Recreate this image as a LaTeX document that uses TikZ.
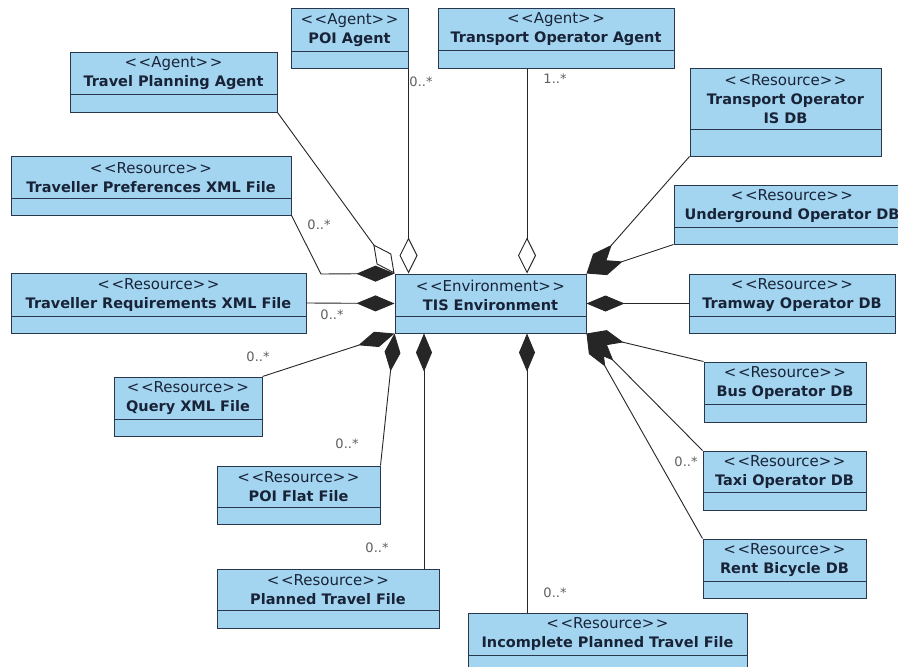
\documentclass[tikz,border=0pt]{standalone}
\usepackage{fontspec}
\setmainfont{DejaVu Sans}
\usetikzlibrary{arrows.meta,fit}
\definecolor{boxfill}{RGB}{163,213,241}
\definecolor{boxline}{RGB}{40,55,75}
\definecolor{txt}{RGB}{25,35,55}
\definecolor{mult}{RGB}{95,95,95}
\tikzset{
  umlbox/.style={draw=boxline, fill=boxfill, line width=1pt, inner sep=0pt},
  head/.style={text=txt, align=center, font=\fontsize{14.5}{19}\selectfont, inner sep=0pt},
  conn/.style={draw=black!85, line width=0.9pt},
  comp/.style={-{Diamond[length=38pt,width=16pt]}},
  aggr/.style={-{Diamond[open,length=36pt,width=18pt]}},
  mul/.style={text=mult, font=\fontsize{13}{14}\selectfont, inner sep=0pt},
}
\newcommand\umlbox[7]{%
  \node[umlbox, fit={(#2,#3) (#4,#5)}] (#1) {};
  \draw[boxline, line width=1pt] (#2,#6) -- (#4,#6);
  \node[head] (#1-t) at ({(#2+#4)/2},{(#3+#6)/2+0.5}) {#7};
}
\newcommand\stereo[1]{{\fontsize{15}{19}\selectfont<\kern1.5pt<#1>\kern1.5pt>}}
\begin{document}
\begin{tikzpicture}[x=1pt,y=-1pt]
\useasboundingbox (0,0) rectangle (898,667);
\fill[white] (0,0) rectangle (898,667);

\umlbox{poi}{291}{8}{408}{68}{51}{\stereo{Agent}\\\textbf{POI Agent}}
\umlbox{toa}{438}{8}{674}{68}{50}{\stereo{Agent}\\\textbf{Transport Operator Agent}}
\umlbox{tpa}{70}{52}{277}{112}{94}{\stereo{Agent}\\\textbf{Travel Planning Agent}}
\umlbox{tpx}{11}{156}{291}{215}{198}{\stereo{Resource}\\\textbf{Traveller Preferences XML File}}
\umlbox{tod}{690}{68}{881}{156}{129}{\stereo{Resource}\\\textbf{Transport Operator}\\\textbf{IS DB}}
\umlbox{und}{674}{185}{910}{244}{227}{\stereo{Resource}\\\textbf{Underground Operator DB}}
\umlbox{trx}{11}{273}{306}{333}{316}{\stereo{Resource}\\\textbf{Traveller Requirements XML File}}
\umlbox{tis}{395}{274}{586}{333}{316}{\stereo{Environment}\\\textbf{TIS Environment}}
\umlbox{tram}{689}{274}{895}{333}{316}{\stereo{Resource}\\\textbf{Tramway Operator DB}}
\umlbox{qry}{114}{377}{262}{436}{419}{\stereo{Resource}\\\textbf{Query XML File}}
\umlbox{bus}{704}{362}{866}{422}{404}{\stereo{Resource}\\\textbf{Bus Operator DB}}
\umlbox{poif}{217}{466}{380}{524}{507}{\stereo{Resource}\\\textbf{POI Flat File}}
\umlbox{ptf}{217}{569}{439}{628}{610}{\stereo{Resource}\\\textbf{Planned Travel File}}
\umlbox{ipt}{468}{613}{747}{680}{655}{\stereo{Resource}\\\textbf{Incomplete Planned Travel File}}
\umlbox{taxi}{703}{451}{866}{510}{492}{\stereo{Resource}\\\textbf{Taxi Operator DB}}
\umlbox{rent}{703}{539}{866}{598}{581}{\stereo{Resource}\\\textbf{Rent Bicycle DB}}

\coordinate (v424) at (424,0);
\coordinate (v527) at (527,0);
\coordinate (tpxbend) at (321,274);

% aggregations (agents)
\draw[conn,aggr] (poi.south east) -- (poi.south east |- tis.north);
\draw[conn,aggr] (v527 |- toa.south) -- (v527 |- tis.north);
\draw[conn,aggr] (tpa.south east) -- (tis.north west);
% compositions (resources)
\draw[conn,comp] (tpx.south east) -- (tpxbend) -- (tis.north west);
\draw[conn,comp] (trx.east) -- (tis.west);
\draw[conn,comp] (qry.north east) -- (tis.south west);
\draw[conn,comp] (poif.north east) -- (tis.south west);
\draw[conn,comp] (v424 |- ptf.north) -- (v424 |- tis.south);
\draw[conn,comp] (v527 |- ipt.north) -- (v527 |- tis.south);
\draw[conn,comp] (tod.south west) -- (tis.north east);
\draw[conn,comp] (und.south west) -- (tis.north east);
\draw[conn,comp] (tram.west) -- (tis.east);
\draw[conn,comp] (bus.north west) -- (tis.south east);
\draw[conn,comp] (taxi.north west) -- (tis.south east);
\draw[conn,comp] (rent.north west) -- (tis.south east);

% multiplicities
\node[mul] (m1) at (421,82) {0..*};
\node[mul] (m2) at (555,79) {1..*};
\node[mul] (m3) at (319,225) {0..*};
\node[mul] (m4) at (332,315) {0..*};
\node[mul] (m5) at (258,357) {0..*};
\node[mul] (m6) at (347,444) {0..*};
\node[mul] (m7) at (377,548) {0..*};
\node[mul] (m8) at (555,593) {0..*};
\node[mul] (m9) at (686,462) {0..*};
\end{tikzpicture}
\end{document}
